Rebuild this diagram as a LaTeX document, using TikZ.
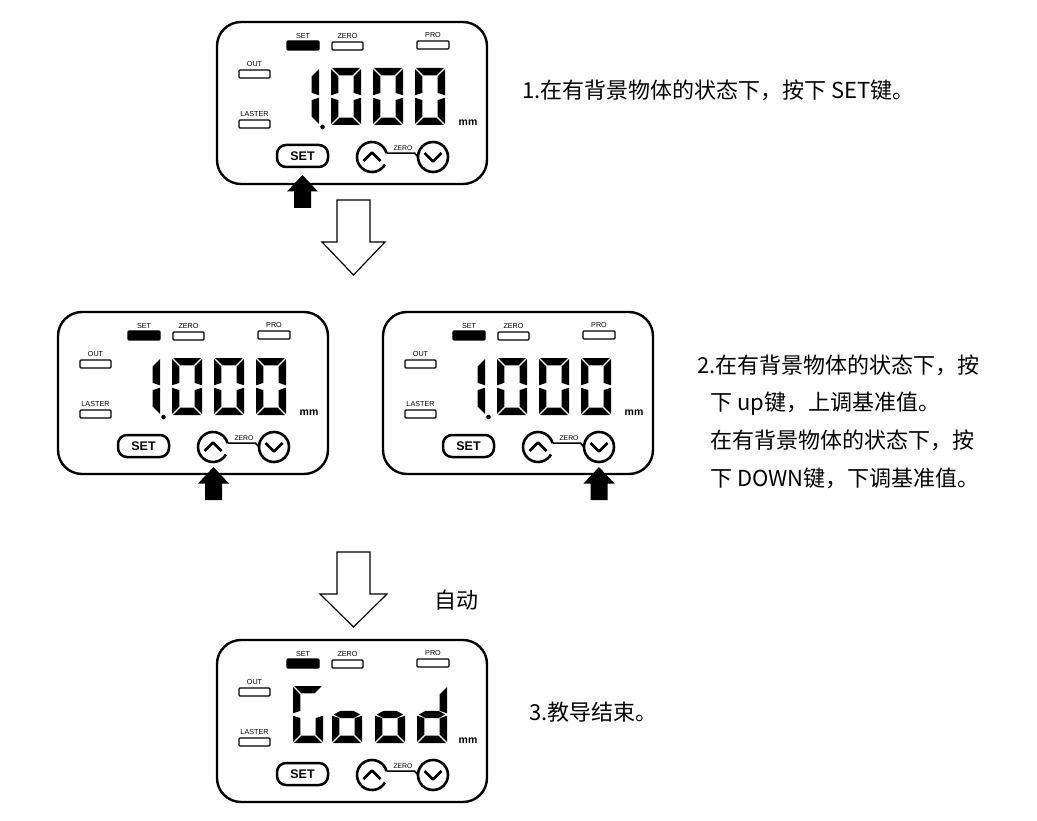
\documentclass[tikz,border=0pt]{standalone}
\usepackage{fontspec}
\newfontfamily\cjk{Noto Sans CJK SC}
\newfontfamily\lab{Liberation Sans}
\usetikzlibrary{calc}
% seven-segment pieces (cell 30 x 57, y downwards)
\def\sega{\fill (1.2,0)--(28.8,0)--(21.4,7.4)--(8.6,7.4)--cycle;}
\def\segd{\fill (1.2,57)--(28.8,57)--(21.4,49.6)--(8.6,49.6)--cycle;}
\def\segf{\fill (0,1.2)--(7.4,8.6)--(7.4,24.8)--(0,27.3)--cycle;}
\def\sege{\fill (0,29.7)--(7.4,32.2)--(7.4,48.4)--(0,55.8)--cycle;}
\def\segb{\fill (30,1.2)--(22.6,8.6)--(22.6,24.8)--(30,27.3)--cycle;}
\def\segc{\fill (30,29.7)--(22.6,32.2)--(22.6,48.4)--(30,55.8)--cycle;}
\def\segg{\fill (1.8,28.5)--(8.6,24.8)--(21.4,24.8)--(28.2,28.5)--(21.4,32.2)--(8.6,32.2)--cycle;}
\tikzset{
  panelbox/.style={draw, line width=2.4pt, rounded corners=24pt},
  ind/.style={draw, line width=1.2pt, rounded corners=1pt},
  indon/.style={draw, fill=black, line width=1.2pt, rounded corners=1pt},
  tinylab/.style={font=\lab\fontsize{7.2}{7.2}\selectfont, inner sep=0pt},
  keybox/.style={draw, line width=2.5pt, rounded corners=9pt},
  keytext/.style={font=\lab\bfseries\fontsize{12.5}{12.5}\selectfont, inner sep=0pt},
  thick2/.style={line width=2.6pt},
  maintext/.style={font=\cjk\fontsize{22}{22}\selectfont, inner sep=0pt, anchor=base west},
  hollow/.style={draw, line width=1.2pt, fill=white, line join=miter},
  digit/.pic={\foreach \s in {#1}{\csname seg\s\endcsname}},
  panel/.pic={
    \draw[panelbox] (0,0) rectangle (270,162);
    \draw[indon] (70,19) rectangle (102,28);
    \node[tinylab] at (86,14) {SET};
    \draw[ind] (115,20) rectangle (146,28);
    \node[tinylab] at (130.5,14.5) {ZERO};
    \draw[ind] (200,19) rectangle (232,27);
    \node[tinylab] at (216,13.5) {PRO};
    \draw[ind] (22,48) rectangle (53,56);
    \node[tinylab] at (37.5,42.5) {OUT};
    \draw[ind] (22,98) rectangle (53,106);
    \node[tinylab] at (37.5,92.5) {LASTER};
    \draw[keybox] (60,123) rectangle (111,145);
    \node[keytext] at (85.5,134) {SET};
    \draw[thick2] (155,135) ++(-15:15) arc(-15:-330:15);
    \draw[thick2] (216,135) circle (15);
    \draw[line width=1.6pt] (169.5,131.1) -- (197.5,131.1) -- (201.2,135);
    \draw[thick2, line join=round] (146.5,139) -- (155,130.5) -- (163.5,139);
    \draw[thick2, line join=round] (207.5,131) -- (216,139.5) -- (224.5,131);
    \node[font=\lab\fontsize{6.8}{6.8}\selectfont, inner sep=0pt] at (186,126.5) {ZERO};
    \node[font=\lab\bfseries\fontsize{10.5}{10.5}\selectfont, inner sep=0pt] at (251,101) {mm};
    #1
  },
}
\def\dispone{%
  \pic at (72,46) {digit={b,c}};
  \pic at (114,46) {digit={a,b,c,d,e,f}};
  \pic at (156,46) {digit={a,b,c,d,e,f}};
  \pic at (198,46) {digit={a,b,c,d,e,f}};
  \fill (105.5,105) circle (2.3);
}
\def\dispgood{%
  \pic at (76,46) {digit={a,c,d,e,f}};
  \pic at (115,46) {digit={c,d,e,g}};
  \pic at (158,46) {digit={c,d,e,g}};
  \pic at (200,46) {digit={b,c,d,e,g}};
}
\newcommand{\pusharrow}[2]{%
  \fill (#1,#2) -- (#1+15.5,#2+16.5) -- (#1+8.5,#2+16.5) -- (#1+8.5,#2+33) -- (#1-8.5,#2+33) -- (#1-8.5,#2+16.5) -- (#1-15.5,#2+16.5) -- cycle;}
\begin{document}
\begin{tikzpicture}[x=1pt,y=-1pt]
\useasboundingbox (0,0) rectangle (1037,821);
% panels
\pic (p1) at (217,22) {panel=\dispone};
\pic (p2) at (58,312) {panel=\dispone};
\pic (p3) at (383,312) {panel=\dispone};
\pic (p4) at (217,640) {panel=\dispgood};
% press arrows
\pusharrow{302.5}{175}
\pusharrow{213.5}{467}
\pusharrow{599}{467}
% hollow flow arrows
\draw[hollow] (337,200) -- (370,200) -- (370,242) -- (385,242) -- (353.5,275) -- (322,242) -- (337,242) -- cycle;
\draw[hollow] (337,552) -- (370,552) -- (370,594) -- (387,594) -- (353.5,627) -- (320,594) -- (337,594) -- cycle;
% texts
\node[maintext] (t1) at (522,99) {1.在有背景物体的状态下，按下 SET键。};
\node[maintext] (t2a) at (697,373) {2.在有背景物体的状态下，按};
\node[maintext] (t2b) at (710,410.5) {下 up键，上调基准值。};
\node[maintext] (t2c) at (710,448) {在有背景物体的状态下，按};
\node[maintext] (t2d) at (710,486) {下 DOWN键，下调基准值。};
\node[maintext] (auto) at (434,608) {自动};
\node[maintext] (t3) at (529,720) {3.教导结束。};
\end{tikzpicture}
\end{document}
